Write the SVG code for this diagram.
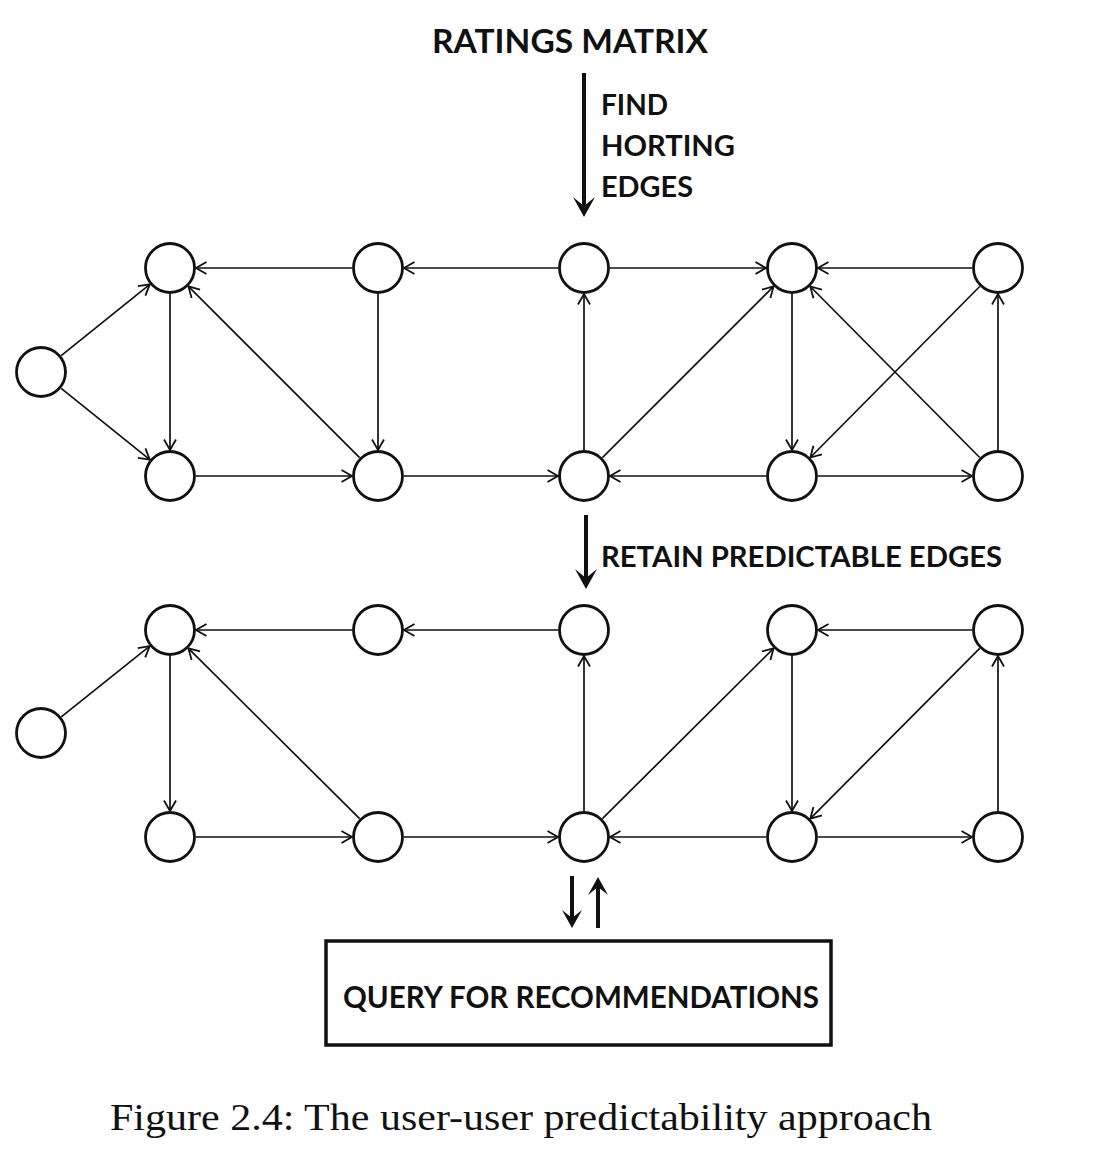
<svg xmlns="http://www.w3.org/2000/svg" width="1093" height="1171" viewBox="0 0 1093 1171">
<style>
.node{fill:#fff;stroke:#111;stroke-width:2.8}
.e{stroke:#111;stroke-width:1.7;fill:none;marker-end:url(#ah)}
.big{stroke:#111;stroke-width:4;fill:none}
.head{fill:#111}
.lbl{font-family:Lato,"Open Sans","Liberation Sans",sans-serif;font-weight:700;fill:#111}
.cap{font-family:"Liberation Serif","DejaVu Serif",serif;fill:#111}
</style>
<defs>
<marker id="ah" viewBox="-12 -8 14 16" refX="0" refY="0" markerWidth="14" markerHeight="16" orient="auto" markerUnits="userSpaceOnUse">
<path d="M-10.5,-6 L0,0 L-10.5,6" fill="none" stroke="#111" stroke-width="1.8"/>
</marker>
</defs>
<rect width="1093" height="1171" fill="#fff"/>

<g id="labels">
<text class="lbl" x="432" y="53" font-size="32" textLength="276" lengthAdjust="spacingAndGlyphs">RATINGS MATRIX</text>
<text class="lbl" x="601" y="115" font-size="28" textLength="67" lengthAdjust="spacingAndGlyphs">FIND</text>
<text class="lbl" x="601" y="156" font-size="28" textLength="134" lengthAdjust="spacingAndGlyphs">HORTING</text>
<text class="lbl" x="601" y="197" font-size="28" textLength="92" lengthAdjust="spacingAndGlyphs">EDGES</text>
<text class="lbl" x="601" y="567" font-size="29" textLength="401" lengthAdjust="spacingAndGlyphs">RETAIN PREDICTABLE EDGES</text>
</g>

<g id="connectors">
<line class="big" x1="584" y1="73" x2="584" y2="208"/>
<path class="head" d="M573,197 L584,217 L595,197 L584,206 Z"/>
<line class="big" x1="586" y1="515" x2="586" y2="580"/>
<path class="head" d="M575,569 L586,589 L597,569 L586,578 Z"/>
<line class="big" x1="572" y1="876" x2="572" y2="920"/>
<path class="head" d="M562,910 L572,928 L582,910 L572,918 Z"/>
<line class="big" x1="598" y1="885" x2="598" y2="928"/>
<path class="head" d="M588,895 L598,877 L608,895 L598,887 Z"/>

<line class="e" x1="61.2" y1="355.7" x2="149.8" y2="284.3"/>
<line class="e" x1="61.2" y1="388.3" x2="149.8" y2="459.7"/>
<line class="e" x1="170" y1="294" x2="170" y2="450"/>
<line class="e" x1="352" y1="268" x2="196" y2="268"/>
<line class="e" x1="359.6" y1="457.6" x2="188.4" y2="286.4"/>
<line class="e" x1="378" y1="294" x2="378" y2="450"/>
<line class="e" x1="196" y1="476" x2="352" y2="476"/>
<line class="e" x1="558" y1="268" x2="404" y2="268"/>
<line class="e" x1="584" y1="450" x2="584" y2="294"/>
<line class="e" x1="404" y1="476" x2="558" y2="476"/>
<line class="e" x1="610" y1="268" x2="766" y2="268"/>
<line class="e" x1="602.4" y1="457.6" x2="773.6" y2="286.4"/>
<line class="e" x1="766" y1="476" x2="610" y2="476"/>
<line class="e" x1="972" y1="268" x2="818" y2="268"/>
<line class="e" x1="792" y1="294" x2="792" y2="450"/>
<line class="e" x1="979.7" y1="457.5" x2="810.3" y2="286.5"/>
<line class="e" x1="979.7" y1="286.5" x2="810.3" y2="457.5"/>
<line class="e" x1="818" y1="476" x2="972" y2="476"/>
<line class="e" x1="998" y1="450" x2="998" y2="294"/>

<line class="e" x1="61.3" y1="716.8" x2="149.7" y2="646.2"/>
<line class="e" x1="170" y1="656" x2="170" y2="811"/>
<line class="e" x1="352" y1="630" x2="196" y2="630"/>
<line class="e" x1="359.6" y1="818.7" x2="188.4" y2="648.3"/>
<line class="e" x1="196" y1="837" x2="352" y2="837"/>
<line class="e" x1="558" y1="630" x2="404" y2="630"/>
<line class="e" x1="584" y1="811" x2="584" y2="656"/>
<line class="e" x1="404" y1="837" x2="558" y2="837"/>
<line class="e" x1="602.4" y1="818.7" x2="773.6" y2="648.3"/>
<line class="e" x1="766" y1="837" x2="610" y2="837"/>
<line class="e" x1="972" y1="630" x2="818" y2="630"/>
<line class="e" x1="792" y1="656" x2="792" y2="811"/>
<line class="e" x1="979.7" y1="648.4" x2="810.3" y2="818.6"/>
<line class="e" x1="818" y1="837" x2="972" y2="837"/>
<line class="e" x1="998" y1="811" x2="998" y2="656"/>
</g>

<g id="top-graph">
<g id="t-L"><circle class="node" cx="41" cy="372" r="24.5"/></g>
<g id="t-A1"><circle class="node" cx="170" cy="268" r="24.5"/></g>
<g id="t-A2"><circle class="node" cx="378" cy="268" r="24.5"/></g>
<g id="t-A3"><circle class="node" cx="584" cy="268" r="24.5"/></g>
<g id="t-A4"><circle class="node" cx="792" cy="268" r="24.5"/></g>
<g id="t-A5"><circle class="node" cx="998" cy="268" r="24.5"/></g>
<g id="t-B1"><circle class="node" cx="170" cy="476" r="24.5"/></g>
<g id="t-B2"><circle class="node" cx="378" cy="476" r="24.5"/></g>
<g id="t-B3"><circle class="node" cx="584" cy="476" r="24.5"/></g>
<g id="t-B4"><circle class="node" cx="792" cy="476" r="24.5"/></g>
<g id="t-B5"><circle class="node" cx="998" cy="476" r="24.5"/></g>
</g>

<g id="bottom-graph">
<g id="b-L"><circle class="node" cx="41" cy="733" r="24.5"/></g>
<g id="b-A1"><circle class="node" cx="170" cy="630" r="24.5"/></g>
<g id="b-A2"><circle class="node" cx="378" cy="630" r="24.5"/></g>
<g id="b-A3"><circle class="node" cx="584" cy="630" r="24.5"/></g>
<g id="b-A4"><circle class="node" cx="792" cy="630" r="24.5"/></g>
<g id="b-A5"><circle class="node" cx="998" cy="630" r="24.5"/></g>
<g id="b-B1"><circle class="node" cx="170" cy="837" r="24.5"/></g>
<g id="b-B2"><circle class="node" cx="378" cy="837" r="24.5"/></g>
<g id="b-B3"><circle class="node" cx="584" cy="837" r="24.5"/></g>
<g id="b-B4"><circle class="node" cx="792" cy="837" r="24.5"/></g>
<g id="b-B5"><circle class="node" cx="998" cy="837" r="24.5"/></g>
</g>

<g id="query-box">
<rect x="326" y="941" width="505" height="104" fill="#fff" stroke="#111" stroke-width="3.5"/>
<text class="lbl" x="343" y="1008" font-size="30" textLength="476" lengthAdjust="spacingAndGlyphs">QUERY FOR RECOMMENDATIONS</text>
</g>

<text class="cap" x="110" y="1130" font-size="38" textLength="822" lengthAdjust="spacingAndGlyphs">Figure 2.4: The user-user predictability approach</text>
</svg>
